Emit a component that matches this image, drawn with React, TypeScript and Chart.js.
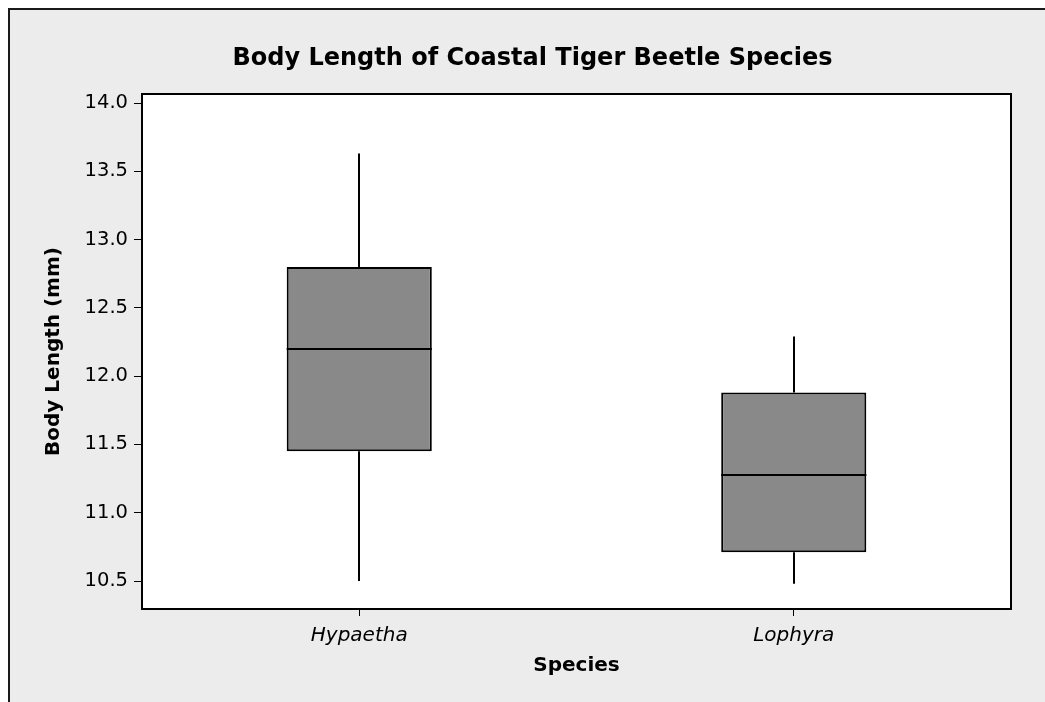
import React, { useEffect, useRef } from "react";
import { Chart, registerables } from "chart.js";

Chart.register(...registerables);

const categories = ["Hypaetha", "Lophyra"];
const q1Values = [11.45, 10.71];
const q3Values = [12.8, 11.88];
const medianValues = [12.2, 11.275];
const whiskerLow = [10.5, 10.48];
const whiskerHigh = [13.63, 12.29];
const yTickValues = [10.5, 11.0, 11.5, 12.0, 12.5, 13.0, 13.5, 14.0];
const titleText = "Body Length of Coastal Tiger Beetle Species";

const FONT = "'DejaVu Sans', Verdana, sans-serif";

const boxPlugin = {
  id: "boxExtras",
  beforeDraw(chart: any) {
    const { ctx, chartArea } = chart;
    ctx.save();
    ctx.fillStyle = "#ffffff";
    ctx.fillRect(chartArea.left, chartArea.top, chartArea.right - chartArea.left, chartArea.bottom - chartArea.top);
    ctx.restore();
  },
  beforeDatasetsDraw(chart: any) {
    const { ctx, scales } = chart;
    const x = scales.x;
    const y = scales.y;
    ctx.save();
    ctx.strokeStyle = "#000";
    ctx.lineWidth = 2;
    categories.forEach((_, i) => {
      const px = Math.round(x.getPixelForValue(i));
      ctx.beginPath();
      ctx.moveTo(px, y.getPixelForValue(whiskerHigh[i]));
      ctx.lineTo(px, y.getPixelForValue(q3Values[i]));
      ctx.moveTo(px, y.getPixelForValue(q1Values[i]));
      ctx.lineTo(px, y.getPixelForValue(whiskerLow[i]));
      ctx.stroke();
    });
    ctx.restore();
  },
  afterDatasetsDraw(chart: any) {
    const { ctx, scales, chartArea } = chart;
    const y = scales.y;
    const meta = chart.getDatasetMeta(0);
    ctx.save();
    ctx.strokeStyle = "#000";
    ctx.lineWidth = 2;
    meta.data.forEach((bar: any, i: number) => {
      const half = bar.width / 2;
      const py = Math.round(y.getPixelForValue(medianValues[i]));
      ctx.beginPath();
      ctx.moveTo(bar.x - half, py);
      ctx.lineTo(bar.x + half, py);
      ctx.stroke();
    });
    ctx.lineWidth = 2;
    ctx.strokeRect(chartArea.left, chartArea.top, chartArea.right - chartArea.left, chartArea.bottom - chartArea.top);
    ctx.restore();
  },
  afterDraw(chart: any) {
    const { ctx } = chart;
    ctx.save();
    ctx.fillStyle = "#000";
    ctx.font = `bold 24px ${FONT}`;
    ctx.textAlign = "center";
    ctx.textBaseline = "middle";
    ctx.fillText(titleText, 522.5, 49);
    ctx.restore();
  },
};

export default function App() {
  const canvasRef = useRef<HTMLCanvasElement | null>(null);

  useEffect(() => {
    if (!canvasRef.current) return;
    const chart = new Chart(canvasRef.current, {
      type: "bar",
      data: {
        labels: categories,
        datasets: [
          {
            label: "Body Length",
            data: categories.map((_, i) => [q1Values[i], q3Values[i]]) as any,
            backgroundColor: "#898989",
            borderColor: "#000",
            borderWidth: 2,
            borderSkipped: false,
            barPercentage: 1,
            categoryPercentage: 0.334,
          },
        ],
      },
      options: {
        responsive: false,
        animation: false,
        devicePixelRatio: 1,
        layout: { padding: { left: 0, right: 34, top: 84, bottom: 0 } },
        plugins: {
          legend: { display: false },
          tooltip: { enabled: false },
          title: { display: false },
        },
        scales: {
          x: {
            type: "category",
            offset: true,
            afterFit(scale: any) {
              scale.height = 93;
            },
            grid: {
              display: true,
              drawOnChartArea: false,
              drawTicks: true,
              tickLength: 7,
              color: "#000",
              offset: false,
            },
            border: { display: false },
            ticks: {
              color: "#000",
              padding: 8,
              font: { family: FONT, size: 20, style: "italic", lineHeight: 1.2 },
            },
            title: {
              display: true,
              text: "Species",
              color: "#000",
              font: { family: FONT, size: 20, weight: "bold", lineHeight: 1.2 },
              padding: { top: 0, bottom: 24 },
            },
          },
          y: {
            type: "linear",
            min: 10.295,
            max: 14.066,
            afterFit(scale: any) {
              scale.width = 132;
            },
            afterBuildTicks(scale: any) {
              scale.ticks = yTickValues.map((v) => ({ value: v }));
            },
            grid: {
              display: true,
              drawOnChartArea: false,
              drawTicks: true,
              tickLength: 8,
              color: "#000",
            },
            border: { display: false },
            ticks: {
              color: "#000",
              padding: 6,
              font: { family: FONT, size: 19.5, lineHeight: 1.2 },
              callback: (v: any) => Number(v).toFixed(1),
            },
            title: {
              display: true,
              text: "Body Length (mm)",
              color: "#000",
              font: { family: FONT, size: 20, weight: "bold", lineHeight: 1.2 },
              padding: { top: 32, bottom: 0 },
            },
          },
        },
      },
      plugins: [boxPlugin],
    });
    return () => chart.destroy();
  }, []);

  return (
    <div
      style={{
        position: "fixed",
        left: 8,
        top: 8,
        width: 1035,
        height: 692,
        borderTop: "2px solid #1a1a1a",
        borderLeft: "2px solid #1a1a1a",
        background: "#ececec",
        overflow: "hidden",
      }}
    >
      <canvas ref={canvasRef} width={1035} height={692} style={{ display: "block", width: 1035, height: 692 }} />
    </div>
  );
}
